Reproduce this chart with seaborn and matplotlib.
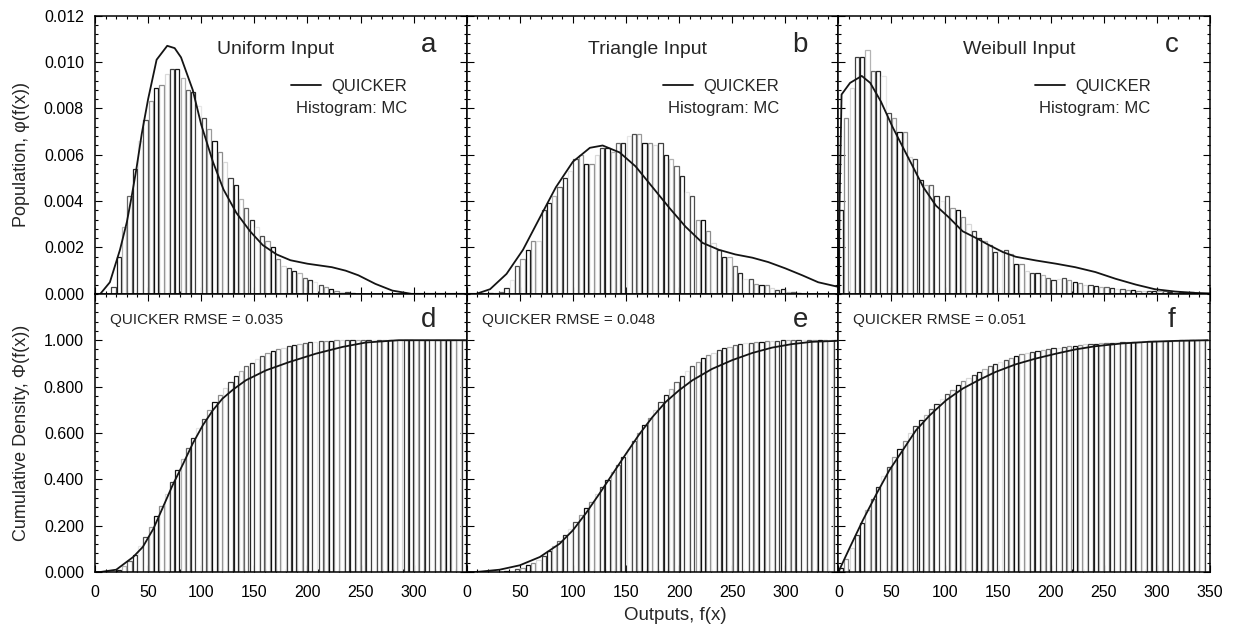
import numpy as np
import matplotlib
matplotlib.use("Agg")
import matplotlib.pyplot as plt
from matplotlib.ticker import MultipleLocator, FormatStrFormatter
import seaborn as sns

# histogram bins (width 5) and MC histogram heights
bin_edges = np.arange(0, 355, 5)
bin_mid = bin_edges[:-1] + 2.5

mc_uniform = [0, 0, 0, 0.0003, 0.0016, 0.0029, 0.0042, 0.0054, 0.0066, 0.0075,
              0.0083, 0.0089, 0.0090, 0.0095, 0.0097, 0.0097, 0.0093, 0.0088, 0.0087, 0.0081,
              0.0076, 0.0071, 0.0066, 0.0061, 0.0057, 0.0050, 0.0047, 0.0041, 0.0037, 0.0032,
              0.0029, 0.0025, 0.0023, 0.0020, 0.0015, 0.0012, 0.0011, 0.0010, 0.0009, 0.0007,
              0.0006, 0.0005, 0.00036, 0.0003, 0.00022, 0.00014, 0.0001, 0.00006, 0.00003, 0,
              0, 0, 0, 0, 0, 0, 0, 0, 0, 0,
              0, 0, 0, 0, 0, 0, 0, 0, 0, 0]
mc_triangle = [0, 0, 0, 0, 0.00003, 0.00005, 0.0001, 0.00026, 0.0006, 0.0012,
               0.0015, 0.0019, 0.0023, 0.0023, 0.0036, 0.0039, 0.0042, 0.0046, 0.0050, 0.0053,
               0.0058, 0.0060, 0.0056, 0.0056, 0.0060, 0.0063, 0.0063, 0.0061, 0.0065, 0.0065,
               0.0068, 0.0069, 0.0069, 0.0065, 0.0065, 0.0064, 0.0065, 0.0060, 0.0058, 0.0055,
               0.0051, 0.0044, 0.0042, 0.0032, 0.0032, 0.0027, 0.0022, 0.0019, 0.0016, 0.0016,
               0.0012, 0.0009, 0.00065, 0.00065, 0.00043, 0.00036, 0.00036, 0.00026, 0.00017, 0.0002,
               0.0001, 0.00007, 0.00005, 0.00003, 0, 0, 0, 0, 0, 0]
mc_weibull = [0.0036, 0.0076, 0.0089, 0.0102, 0.0102, 0.0105, 0.0096, 0.0096, 0.0094, 0.0078,
              0.0076, 0.0070, 0.0070, 0.0059, 0.0058, 0.0049, 0.0047, 0.0047, 0.0042, 0.0040,
              0.0042, 0.0037, 0.0036, 0.0033, 0.0030, 0.0027, 0.0024, 0.0023, 0.0021, 0.0018,
              0.0019, 0.0019, 0.0017, 0.0013, 0.0013, 0.0010, 0.0009, 0.0009, 0.0008, 0.0007,
              0.0006, 0.00065, 0.0007, 0.0006, 0.0005, 0.00046, 0.0004, 0.00036, 0.00033, 0.0003,
              0.0003, 0.00026, 0.0002, 0.00019, 0.00017, 0.00017, 0.00014, 0.00014, 0.00014, 0.00012,
              0.00012, 0.00012, 0.0001, 0.0001, 0.0001, 0.00006, 0.00006, 0.00003, 0.00002, 0.00001]

# QUICKER pdf curves
q_uniform_x = [0, 5, 14, 23.5, 30, 34.5, 39, 44, 50, 58, 68, 75, 81, 92, 100, 111, 121, 133,
               146, 158, 171, 184, 200, 223, 236, 248, 264, 280, 298, 320, 350]
q_uniform_y = [0, 0, 0.0005, 0.0019, 0.0031, 0.0042, 0.0054, 0.0069, 0.0084, 0.0101, 0.0107,
               0.0106, 0.0102, 0.0088, 0.0073, 0.0057, 0.0045, 0.0035, 0.0027, 0.0021, 0.0017,
               0.00145, 0.0013, 0.00115, 0.001, 0.0008, 0.00043, 0.00014, 0, 0, 0]
q_triangle_x = [0, 9, 22, 37.5, 53, 69, 84, 100, 116, 128, 144, 159, 175, 191, 206, 222, 237.5,
                253, 269, 284, 300, 316, 331, 350]
q_triangle_y = [0, 0, 0.0002, 0.00086, 0.0019, 0.0033, 0.0046, 0.0057, 0.0063, 0.0064, 0.0061,
                0.0055, 0.0046, 0.0037, 0.0029, 0.0022, 0.0019, 0.0017, 0.00156, 0.00137, 0.0011,
                0.0008, 0.0005, 0.0003]
q_weibull_x = [0, 1, 3, 11, 22, 30, 40, 51, 61, 70, 80, 92, 104, 117, 130, 142, 155, 167, 186,
               205, 223, 242, 261, 280, 298, 317, 336, 350]
q_weibull_y = [0, 0.0035, 0.0086, 0.0091, 0.0094, 0.0091, 0.0083, 0.0072, 0.0063, 0.0055,
               0.0046, 0.0038, 0.0033, 0.0027, 0.0024, 0.0021, 0.0018, 0.0016, 0.00144, 0.0013,
               0.00115, 0.00094, 0.00065, 0.0004, 0.0002, 0.0001, 0.00004, 0.00002]

# QUICKER cdf curves
c_uniform_x = [0, 5, 20, 36, 45, 55, 64, 73, 83, 92, 101.5, 111, 120, 130, 142, 161, 183, 208,
               233, 255, 286, 350]
c_uniform_y = [0, 0, 0.01, 0.065, 0.108, 0.187, 0.28, 0.374, 0.467, 0.554, 0.633, 0.698, 0.748,
               0.787, 0.827, 0.87, 0.906, 0.942, 0.971, 0.99, 1.0, 1.0]
c_triangle_x = [0, 9, 31, 50, 69, 87.5, 100, 112.5, 125, 137.5, 150, 162.5, 175, 187.5, 200,
                212.5, 231, 250, 269, 287.5, 306, 325, 348]
c_triangle_y = [0, 0, 0.01, 0.029, 0.065, 0.122, 0.18, 0.255, 0.338, 0.424, 0.51, 0.594, 0.669,
                0.734, 0.784, 0.827, 0.876, 0.914, 0.945, 0.968, 0.983, 0.993, 0.997]
c_weibull_x = [0, 11, 23, 36, 48, 61, 73, 86, 101.5, 117, 133, 148, 167, 186, 205, 223, 242, 267,
               292, 317, 348]
c_weibull_y = [0, 0.108, 0.223, 0.338, 0.439, 0.528, 0.611, 0.676, 0.741, 0.791, 0.83, 0.863,
               0.896, 0.921, 0.942, 0.96, 0.974, 0.986, 0.993, 0.997, 1.0]

titles = ["Uniform Input", "Triangle Input", "Weibull Input"]
letters_top = ["a", "b", "c"]
letters_bot = ["d", "e", "f"]
rmse_text = ["QUICKER RMSE = 0.035", "QUICKER RMSE = 0.048", "QUICKER RMSE = 0.051"]

mc_list = [mc_uniform, mc_triangle, mc_weibull]
pdf_curves = [(q_uniform_x, q_uniform_y), (q_triangle_x, q_triangle_y), (q_weibull_x, q_weibull_y)]
cdf_curves = [(c_uniform_x, c_uniform_y), (c_triangle_x, c_triangle_y), (c_weibull_x, c_weibull_y)]

sns.set_style("ticks")
plt.rcParams["font.family"] = ["Liberation Sans", "DejaVu Sans"]

grays = ["0.05", "0.55", "0.85", "0.25", "0.1", "0.7", "0.4", "0.15", "0.9", "0.3", "0.6"]
n_bins = len(bin_mid)


def recolor(ax, start):
    for i, p in enumerate(ax.patches[start:]):
        p.set_edgecolor(grays[i % len(grays)])


def style_axis(ax):
    ax.set_xlim(0, 350)
    ax.xaxis.set_major_locator(MultipleLocator(50))
    ax.xaxis.set_minor_locator(MultipleLocator(10))
    ax.tick_params(which="both", direction="in", top=True, right=True, labelsize=11.5,
                   colors="black", width=0.8)
    ax.tick_params(which="major", length=5)
    ax.tick_params(which="minor", length=2.5)
    ax.tick_params(axis="y", pad=8)
    ax.tick_params(axis="x", pad=9)
    for s in ax.spines.values():
        s.set_linewidth(1.1)
        s.set_color("black")
    ax.set_xlabel("")
    ax.set_ylabel("")


fig, axes = plt.subplots(2, 3, figsize=(12.34, 6.27), dpi=100)
plt.subplots_adjust(left=0.077, right=0.9806, top=0.975, bottom=0.0877, wspace=0, hspace=0)

for j in range(3):
    # top row: pdf
    ax = axes[0, j]
    n0 = len(ax.patches)
    sns.histplot(x=bin_mid, weights=np.array(mc_list[j]), bins=n_bins,
                 binrange=(bin_edges[0], bin_edges[-1]), fill=False, shrink=0.8,
                 linewidth=0.9, ax=ax)
    recolor(ax, n0)
    sns.lineplot(x=pdf_curves[j][0], y=pdf_curves[j][1], color="0.08", linewidth=1.3, ax=ax,
                 label="QUICKER")
    style_axis(ax)
    ax.set_ylim(0, 0.012)
    ax.yaxis.set_major_locator(MultipleLocator(0.002))
    ax.yaxis.set_minor_locator(MultipleLocator(0.0004))
    ax.yaxis.set_major_formatter(FormatStrFormatter("%.3f"))
    ax.set_xticklabels([])
    if j > 0:
        ax.set_yticklabels([])
    ax.legend(loc="center right", bbox_to_anchor=(0.84, 0.747), frameon=False, fontsize=12,
              handlelength=1.8, handletextpad=0.6, borderpad=0, borderaxespad=0)
    ax.text(0.84, 0.667, "Histogram: MC", transform=ax.transAxes, ha="right", va="center",
            fontsize=12)
    ax.text(0.486, 0.879, titles[j], transform=ax.transAxes, ha="center", va="center",
            fontsize=14)
    ax.text(0.897, 0.895, letters_top[j], transform=ax.transAxes, ha="center", va="center",
            fontsize=20)

    # bottom row: cdf
    ax = axes[1, j]
    n0 = len(ax.patches)
    sns.histplot(x=bin_mid, weights=np.array(mc_list[j]), bins=n_bins,
                 binrange=(bin_edges[0], bin_edges[-1]), stat="probability",
                 cumulative=True, fill=False, shrink=0.8, linewidth=0.9, ax=ax)
    recolor(ax, n0)
    sns.lineplot(x=cdf_curves[j][0], y=cdf_curves[j][1], color="0.08", linewidth=1.3, ax=ax)
    style_axis(ax)
    ax.set_ylim(0, 1.2)
    ax.set_yticks(np.arange(0, 1.01, 0.2))
    ax.yaxis.set_minor_locator(MultipleLocator(0.04))
    ax.yaxis.set_major_formatter(FormatStrFormatter("%.3f"))
    if j > 0:
        ax.set_yticklabels([])
    ticks = np.arange(0, 351, 50)
    ax.set_xticks(ticks)
    labels = [str(t) for t in ticks]
    if j < 2:
        labels[-1] = ""
    ax.set_xticklabels(labels)
    ax.text(0.04, 0.905, rmse_text[j], transform=ax.transAxes, ha="left", va="center",
            fontsize=11)
    ax.text(0.897, 0.905, letters_bot[j], transform=ax.transAxes, ha="center", va="center",
            fontsize=20)

axes[0, 0].set_ylabel("Population, \u03c6(f(x))", fontsize=13, labelpad=10)
axes[1, 0].set_ylabel("Cumulative Density, \u03a6(f(x))", fontsize=13, labelpad=10)
fig.text(0.547, 0.019, "Outputs, f(x)", ha="center", va="center", fontsize=13.5)

plt.savefig("out.png", dpi=100)
